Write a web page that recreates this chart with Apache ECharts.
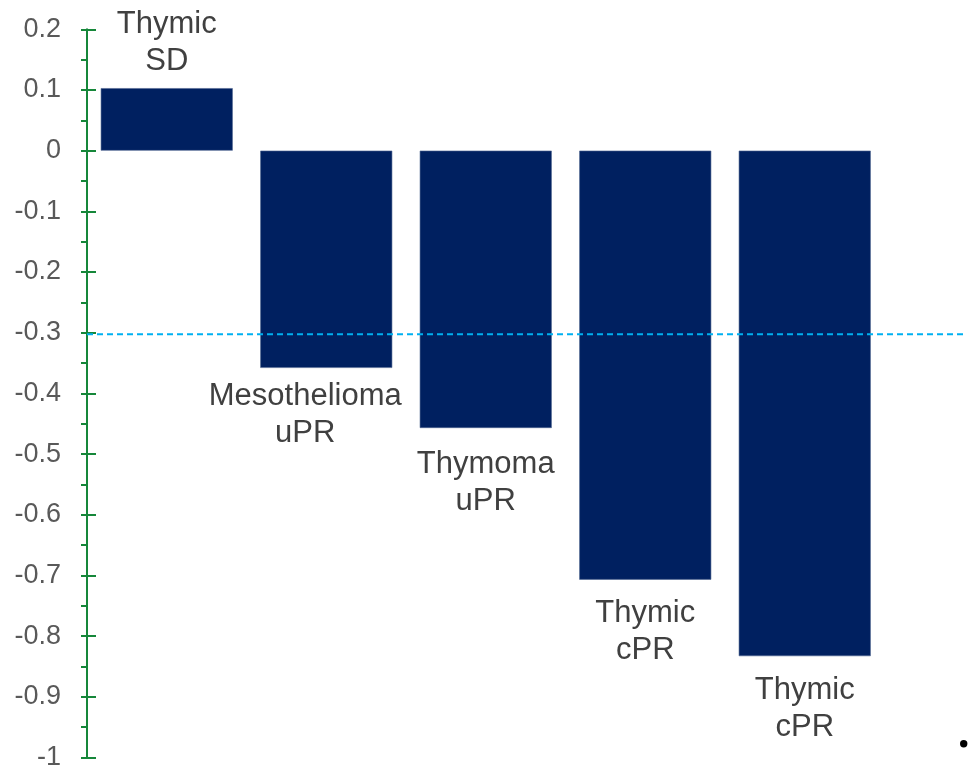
<!DOCTYPE html>
<html>
<head>
<meta charset="utf-8">
<script src="https://cdn.jsdelivr.net/npm/echarts@6/dist/echarts.min.js"></script>
<style>
  html, body { margin: 0; padding: 0; background: #fff; }
  #chart { width: 968px; height: 771px; }
</style>
</head>
<body>
<div id="chart"></div>
<script>
// categories (shown as labels at the bar ends)
const categories = ['Thymic\nSD', 'Mesothelioma\nuPR', 'Thymoma\nuPR', 'Thymic\ncPR', 'Thymic\ncPR']
const values = [0.103, -0.358, -0.457, -0.707, -0.833]
const thresholdValue = -0.3

const yMin = -1
const yMax = 0.2
const yStep = 0.1

// label placement tweaks per bar
const labelDist = [8, 10, 18, 15, 16]
const labelShift = [0, -21, 0, 0, 0]

const font = 'Liberation Sans, Arial, sans-serif'
const green = '#16873a'

const chart = echarts.init(document.getElementById('chart'))

const barData = values.map((v, i) => ({
  value: v,
  label: {
    position: v >= 0 ? 'top' : 'bottom',
    distance: labelDist[i],
    offset: [labelShift[i], 0]
  }
}))

const option = {
  animation: false,
  grid: [
    { left: 87, right: 83.5, top: 29.3, bottom: 10 },
    { left: 87, right: 3, top: 29.3, bottom: 10 }
  ],
  xAxis: [
    { type: 'category', gridIndex: 0, data: categories, show: false },
    { type: 'value', gridIndex: 1, min: 0, max: 1, show: false }
  ],
  yAxis: [
    {
      type: 'value', gridIndex: 0, position: 'left',
      min: yMin, max: yMax, interval: yStep,
      axisLine: { show: true, onZero: false, lineStyle: { color: green, width: 2 } },
      axisTick: { show: true, inside: false, length: 6, lineStyle: { color: green, width: 2 } },
      minorTick: { show: true, splitNumber: 2, length: 6, lineStyle: { color: green, width: 2 } },
      splitLine: { show: false },
      axisLabel: { color: '#595959', fontSize: 27, fontFamily: font, margin: 26 }
    },
    {
      type: 'value', gridIndex: 0, position: 'left', offset: 0,
      min: yMin, max: yMax, interval: yStep,
      axisLine: { show: false },
      axisTick: { show: true, inside: true, length: 9, lineStyle: { color: green, width: 2 } },
      splitLine: { show: false },
      axisLabel: { show: false }
    },
    {
      type: 'value', gridIndex: 1, min: yMin, max: yMax, show: false
    }
  ],
  series: [
    {
      type: 'bar',
      xAxisIndex: 0, yAxisIndex: 0,
      data: barData,
      barWidth: 132,
      itemStyle: { color: '#002060', borderColor: '#4d6490', borderWidth: 0.6 },
      label: {
        show: true,
        formatter: p => categories[p.dataIndex],
        color: '#404040',
        fontSize: 31,
        lineHeight: 37,
        fontFamily: font
      }
    },
    {
      type: 'line',
      xAxisIndex: 1, yAxisIndex: 2,
      data: [[0, thresholdValue], [1, thresholdValue]],
      symbol: 'none',
      z: 5,
      lineStyle: { color: '#00b0f0', width: 2, type: [6, 4] }
    }
  ],
  graphic: [
    { type: 'circle', left: 960, top: 740, shape: { r: 3.7 }, style: { fill: '#000' } }
  ]
}

chart.setOption(option)
</script>
</body>
</html>
